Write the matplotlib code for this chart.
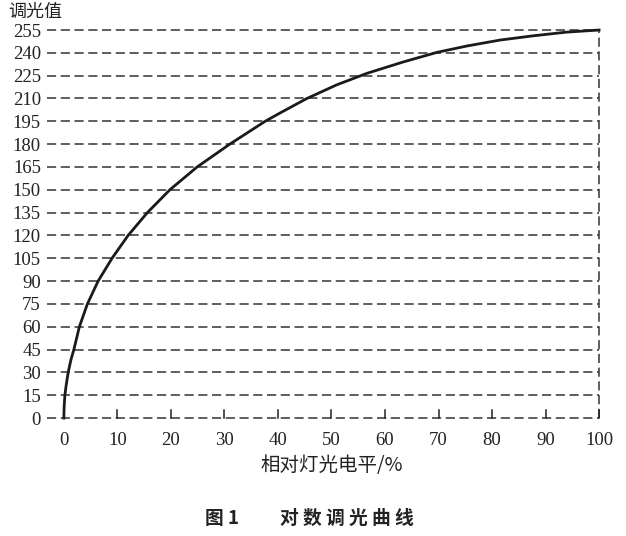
import numpy as np
import matplotlib
matplotlib.use("Agg")
import matplotlib.pyplot as plt

plt.rcParams['font.family'] = ['Liberation Serif', 'Noto Sans CJK SC']

# relative light level (%) vs dimming value
level = [0, 0.05, 0.19, 0.45, 0.81, 1.3, 1.87, 2.9, 4.4, 6.4, 9.0, 12.0,
         15.6, 19.8, 24.9, 31.0, 37.6, 40.4, 45.4, 51.0, 56.6, 63.4, 69.7,
         75.3, 81.5, 87.7, 93.9, 100]
value = [0, 7, 15, 22, 30, 38, 45, 60, 75, 90, 105, 120,
         135, 150, 165, 180, 195, 200.5, 210, 219, 226.5, 234, 240.3,
         244.5, 248.4, 251.2, 253.6, 255]

y_ticks = list(range(0, 256, 15))
x_ticks = list(range(0, 101, 10))

fig = plt.figure(figsize=(6.26, 5.36), dpi=100)
ax = fig.add_axes([0.102, 0.22, 0.855, 0.724])

# dashed grid, starting a bit left of the axis so it doubles as y ticks
for yv in y_ticks:
    ax.plot([-3.2, 100], [yv, yv], color='#333333', lw=1.1,
            dashes=(6, 3), clip_on=False, zorder=1)
ax.plot([100, 100], [0, 255], color='#333333', lw=1.1,
        dashes=(6, 3), clip_on=False, zorder=1)

# upward x ticks on the zero line
for xv in x_ticks:
    ax.plot([xv, xv], [0, 5], color='#222222', lw=1.1, clip_on=False, zorder=2)

ax.plot(level, value, color='#1a1a1a', lw=2, zorder=3, clip_on=False,
        solid_joinstyle='round')

ax.set_xlim(0, 100)
ax.set_ylim(0, 255)
for s in ax.spines.values():
    s.set_visible(False)
ax.set_xticks(x_ticks)
ax.set_yticks(y_ticks)
ax.tick_params(length=0, labelsize=13.5, colors='#222222')
ax.tick_params(axis='y', pad=16.5)
ax.tick_params(axis='x', pad=10)

ax.set_xlabel('相对灯光电平/%', family=['Noto Sans CJK SC'], fontsize=14,
              color='#222222', labelpad=4)
fig.text(0.013, 0.978, '调光值', family=['Noto Sans CJK SC'], fontsize=13,
         color='#222222', va='center', ha='left')
fig.text(0.327, 0.032, '图 1', family=['Noto Sans CJK SC'],
         fontsize=13.5, fontweight='bold', color='#222222', ha='left', va='center')
fig.text(0.447, 0.032, '对 数 调 光 曲 线', family=['Noto Sans CJK SC'],
         fontsize=13.5, fontweight='bold', color='#222222', ha='left', va='center')

fig.savefig('out.png', dpi=100)
